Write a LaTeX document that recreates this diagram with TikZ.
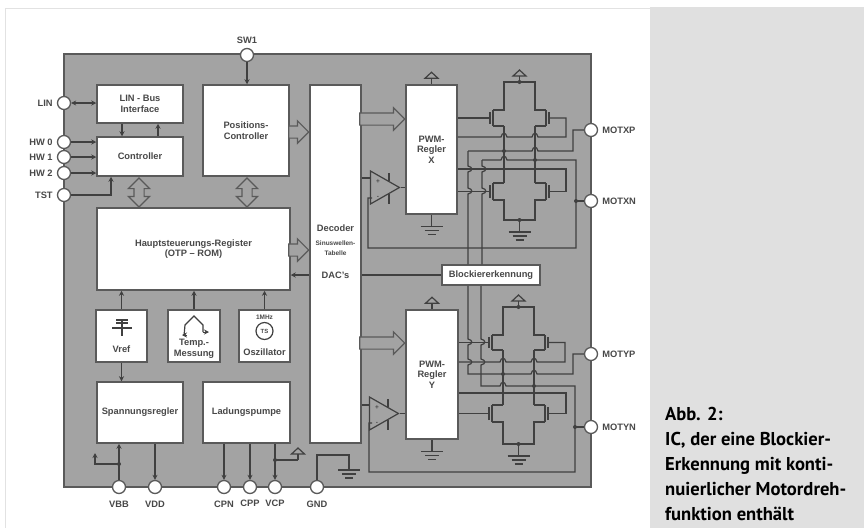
\documentclass[tikz,border=0pt]{standalone}
\usepackage{xcolor}
\usepackage{fontspec}
\setmainfont{Liberation Sans}
\newfontfamily\capfont{PT Sans}
\usetikzlibrary{positioning,arrows.meta,shapes.geometric,shapes.arrows,calc}
\definecolor{ChipGray}{HTML}{A3A3A3}
\definecolor{PanelGray}{HTML}{E0E0E0}
\definecolor{FrameGray}{HTML}{E2E2E2}
\definecolor{EdgeDark}{HTML}{5A5A5A}
\definecolor{WireDark}{HTML}{404040}
\definecolor{TextDark}{HTML}{484848}
\newcommand{\hoph}[2]{-- (#1-3,#2) .. controls (#1-2,#2-5) and (#1+2,#2-5) .. (#1+3,#2)}
\newcommand{\hopv}[2]{-- (#1,#2-3) .. controls (#1+5,#2-2) and (#1+5,#2+2) .. (#1,#2+3)}
\tikzset{
  wire/.style={WireDark,line width=1.2pt},
  ar/.style={-{Stealth[length=5pt,width=5pt]},WireDark,line width=1.2pt},
  arb/.style={{Stealth[length=5pt,width=5pt]}-{Stealth[length=5pt,width=5pt]},WireDark,line width=1.2pt},
  wdot/.style={fill=WireDark},
  chan/.style={WireDark,line width=2.4pt},
  blockbox/.style={draw=EdgeDark,fill=white,line width=1.5pt,inner sep=0pt,align=center,text=TextDark},
  pinnode/.style={circle,draw=EdgeDark,fill=white,line width=1.3pt,minimum size=13pt,inner sep=0pt},
  pinlabel/.style={inner sep=0pt,text=TextDark},
  tinylabel/.style={inner sep=0pt,text=TextDark,font=\fontsize{6.5}{9.5}\selectfont\bfseries},
  hollowr/.style={single arrow,draw=EdgeDark,fill=ChipGray,line width=1.2pt,inner xsep=0pt,inner ysep=5.5pt,minimum width=21pt,
    single arrow head extend=5pt,single arrow head indent=0pt,anchor=tip},
  hollowv/.style={double arrow,shape border rotate=90,draw=EdgeDark,fill=ChipGray,line width=1.2pt,inner sep=4.5pt,
    minimum width=20pt,minimum height=29pt,double arrow head extend=5.5pt},
  amp/.style={isosceles triangle,isosceles triangle stretches,draw=WireDark,line width=1.2pt,inner sep=0pt,
    minimum width=33pt,minimum height=29pt,anchor=apex},
  pics/vddsym/.style={code={
    \draw[wire] (0,0) -- (0,-6);
    \draw[wire] (-6.5,-6) -- (0,-12) -- (6.5,-6) -- cycle;}},
  pics/gndsym/.style={code={
    \draw[wire] (0,0) -- (0,12);
    \draw[wire] (-11,12) -- (11,12);
    \draw[wire] (-7,16) -- (7,16);
    \draw[wire] (-4,20) -- (4,20);}},
  pics/halfbridge/.style 2 args={code={
    \draw[wire] (-11,#1) -- (0,#1) -- (0,0) -- (31,0) -- (31,#1) -- (42,#1);
    \draw[wire] (-11,#2) -- (0,#2);
    \draw[wire] (31,#2) -- (42,#2);
    \draw[chan] (-11,#1) -- (-11,#2);
    \draw[chan] (42,#1) -- (42,#2);
    \draw[wire] (-14,#1+2) -- (-14,#2-2);
    \draw[wire] (45,#1+2) -- (45,#2-2);
    \fill[wdot] (15.5,0) circle (2);
    \coordinate (-gl) at (-14,{(#1+#2)/2});
    \coordinate (-gr) at (45,{(#1+#2)/2});
    \coordinate (-sl) at (0,#2);
    \coordinate (-sr) at (31,#2);}}
}
\begin{document}
\begin{tikzpicture}[x=1pt,y=-1pt,
    every node/.style={font=\fontsize{9.3}{10.5}\selectfont\bfseries}]
  \useasboundingbox (0,0) rectangle (864,528);
  % page
  \fill[white] (0,0) rectangle (864,528);
  \draw[FrameGray,line width=1pt] (5,528) -- (5,8) -- (650,8);
  \fill[PanelGray] (650,7) rectangle (864,528);
  \node[draw=EdgeDark,fill=ChipGray,line width=1.2pt,inner sep=0pt,minimum width=527pt,minimum height=433pt]
    (chip) at (327.5,270.5) {};

  % blocks
  \node[blockbox,minimum width=86pt,minimum height=38pt] (linbus) at (140,104) {LIN - Bus\\Interface};
  \node[blockbox,minimum width=86pt,minimum height=39pt] (ctrl) at (140,156.5) {Controller};
  \node[blockbox,minimum width=86pt,minimum height=91pt] (posc) at (246,130.5) {Positions-\\Controller};
  \node[blockbox,minimum width=193pt,minimum height=82pt] (haupt) at (193.5,249) {Hauptsteuerungs-Register\\(OTP -- ROM)};
  \node[blockbox,minimum width=51pt,minimum height=358pt] (dec) at (335.5,264) {};
  \node[blockbox,minimum width=51pt,minimum height=129pt] (pwmx) at (431.5,149.5) {PWM-\\Regler\\X};
  \node[blockbox,minimum width=52pt,minimum height=129pt] (pwmy) at (432,374.5) {PWM-\\Regler\\Y};
  \node[blockbox,minimum width=98pt,minimum height=20pt] (blk) at (491,275) {Blockiererkennung};
  \node[blockbox,minimum width=51pt,minimum height=52pt] (vref) at (121.5,336) {};
  \node[blockbox,minimum width=52pt,minimum height=52pt] (temp) at (194,336) {};
  \node[blockbox,minimum width=51pt,minimum height=52pt] (osc) at (264.5,336) {};
  \node[blockbox,minimum width=86pt,minimum height=61pt] (spann) at (140,412.5) {Spannungsregler};
  \node[blockbox,minimum width=87pt,minimum height=61pt] (ladung) at (246.5,412.5) {Ladungspumpe};

  % texts inside the blocks
  \node[pinlabel] (dectxt) at (335.5,228) {Decoder};
  \node[tinylabel,align=center] (sintxt) at (335.5,248) {Sinuswellen-\\Tabelle};
  \node[pinlabel] (dactxt) at (335.5,275) {DAC's};
  \node[pinlabel] (vreftxt) at (121.5,349) {Vref};
  \node[pinlabel,align=center] (temptxt) at (194,349) {Temp.-\\Messung};
  \node[tinylabel] (mhztxt) at (264.5,317) {1MHz};
  \node[pinlabel] (osctxt) at (264.5,352) {Oszillator};

  % pins
  \node[pinnode] (sw1) at (247,55) {};
  \node[pinnode] (lin) at (64,103) {};
  \node[pinnode] (hw0) at (64,142) {};
  \node[pinnode] (hw1) at (64,157) {};
  \node[pinnode] (hw2) at (64,173) {};
  \node[pinnode] (tst) at (64,195) {};
  \node[pinnode] (vbb) at (119,487) {};
  \node[pinnode] (vdd) at (155,487) {};
  \node[pinnode] (cpn) at (224,487) {};
  \node[pinnode] (cpp) at (250,487) {};
  \node[pinnode] (vcp) at (275,487) {};
  \node[pinnode] (gnd) at (317,487) {};
  \node[pinnode] (motxp) at (591,130) {};
  \node[pinnode] (motxn) at (591,201) {};
  \node[pinnode] (motyp) at (591,354) {};
  \node[pinnode] (motyn) at (591,427) {};
  \node[pinlabel,above=4pt of sw1] (sw1txt) {SW1};
  \node[pinlabel,left=4pt of lin] (lintxt) {LIN};
  \node[pinlabel,left=4pt of hw0] (hw0txt) {HW 0};
  \node[pinlabel,left=4pt of hw1] (hw1txt) {HW 1};
  \node[pinlabel,left=4pt of hw2] (hw2txt) {HW 2};
  \node[pinlabel,left=4pt of tst] (tsttxt) {TST};
  \node[pinlabel,below=7pt of vbb] (vbbtxt) {VBB};
  \node[pinlabel,below=7pt of vdd] (vddtxt) {VDD};
  \node[pinlabel,below=7pt of cpn] (cpntxt) {CPN};
  \node[pinlabel,below=6pt of cpp] (cpptxt) {CPP};
  \node[pinlabel,below=6pt of vcp] (vcptxt) {VCP};
  \node[pinlabel,below=7pt of gnd] (gndtxt) {GND};
  \node[pinlabel,right=4pt of motxp] (motxptxt) {MOTXP};
  \node[pinlabel,right=4pt of motxn] (motxntxt) {MOTXN};
  \node[pinlabel,right=4pt of motyp] (motyptxt) {MOTYP};
  \node[pinlabel,right=4pt of motyn] (motyntxt) {MOTYN};

  % hollow bus arrows
  \node[hollowr,minimum height=20pt] (busa) at (309.5,132) {};
  \node[hollowr,minimum height=20pt] (busb) at (309.5,250) {};
  \node[hollowr,minimum height=45pt] (busx) at (405.5,119) {};
  \node[hollowr,minimum height=45pt] (busy) at (405.5,343) {};
  \node[hollowv] (busc) at (139,192.5) {};
  \node[hollowv] (busd) at (247,192.5) {};

  % simple connectors
  \draw[ar] (sw1.south) -- (sw1.south |- posc.north);
  \draw[arb] (lin.east) -- (lin.east -| linbus.west);
  \draw[ar] ([xshift=-18pt]linbus.south) -- ([xshift=-18pt]ctrl.north);
  \draw[ar] ([xshift=18pt]ctrl.north) -- ([xshift=18pt]linbus.south);
  \draw[ar] (hw0.east) -- (hw0.east -| ctrl.west);
  \draw[ar] (hw1.east) -- (hw1.east -| ctrl.west);
  \draw[ar] (hw2.east) -- (hw2.east -| ctrl.west);
  \draw[ar] (tst.east) -| ([xshift=-29pt]ctrl.south);
  \draw[ar] (vref.north) -- (vref.north |- haupt.south);
  \draw[ar] (temp.north) -- (temp.north |- haupt.south);
  \draw[ar] (osc.north) -- (osc.north |- haupt.south);
  \draw[ar] (vref.south) -- (vref.south |- spann.north);
  \draw[ar] (vbb.north) -- (vbb.north |- spann.south);
  \draw[ar] (vdd.north |- spann.south) -- (vdd.north);
  \draw[ar] (cpn.north |- ladung.south) -- (cpn.north);
  \draw[ar] (cpp.north |- ladung.south) -- (cpp.north);
  \draw[ar] (vcp.north |- ladung.south) -- (vcp.north);
  \draw[wire] (blk.west) -- (dec.east |- blk.west);
  \draw[ar] (dec.west |- blk.west) -- (haupt.east |- blk.west);

  % small branches at the bottom
  \coordinate (vbbdot) at (119,464);
  \coordinate (vcpdot) at (275,460);
  \fill[wdot] (vbbdot) circle (2);
  \fill[wdot] (vcpdot) circle (2);
  \draw[ar] (vbbdot) -- (95,464) -- (95,453);
  \draw[wire] (vcpdot) -- (298,460);
  \pic at (298,460) {vddsym};
  \draw[wire] (gnd.north) -- (317,455) -- (349,455) -- (349,458);
  \pic at (349,458) {gndsym};

  % supplies of the PWM blocks
  \pic at (pwmx.north) {vddsym};
  \pic at (pwmx.south) {gndsym};
  \pic at (pwmy.north) {vddsym};
  \pic at (pwmy.south) {gndsym};

  % output stage X
  \pic (bxt) at (504,82) {halfbridge={28}{44}};
  \pic[yscale=-1] (bxb) at (504,220) {halfbridge={20}{37}};
  \pic at (519.5,82) {vddsym};
  \pic at (519.5,220) {gndsym};
  \draw[wire] (bxt-sl) -- (bxb-sl);
  \draw[wire] (bxt-sr) -- (bxb-sr);
  \fill[wdot] (504,151) circle (2);
  \fill[wdot] (535,160) circle (2);
  \draw[wire] (pwmx.east |- bxt-gl) -- (bxt-gl);
  \draw[wire] (pwmx.east |- 0,137) \hoph{504}{137} \hoph{535}{137} -- (566,137) -- (566,0 |- bxt-gr) -- (bxt-gr);
  \draw[wire] (pwmx.east |- 0,169) -- (566,169) -- (566,0 |- bxb-gr) -- (bxb-gr);
  \draw[wire] (pwmx.east |- bxb-gl) -- (bxb-gl);
  \draw[wire] (468,151) \hopv{468}{169} \hopv{468}{191} -- (468,0 |- blk.north);
  \draw[wire] (468,151) \hoph{535}{151} -- (573,151) -- (573,0 |- motxp.west) -- (motxp.west);
  \draw[wire] (482,160) \hopv{482}{169} \hopv{482}{191} -- (482,0 |- blk.north);
  \draw[wire] (482,160) \hoph{504}{160} -- (576,160) -- (576,248) -- (368,248) -- (368,198) -- (372,198);
  \fill[wdot] (576,0 |- motxn.west) circle (2);
  \draw[wire] (576,0 |- motxn.west) -- (motxn.west);
  \node[amp] (ampx) at (401,187.5) {};
  \node[tinylabel] (ampxp) at (378,182) {+};
  \node[tinylabel] (ampxm) at (378,197) {-};
  \draw[wire] (389,173) -- (389,181);
  \draw[wire] (389,194) -- (389,204);
  \draw[wire] (dec.east |- 0,178) -- (ampx.lower side |- 0,178);
  \draw[wire] (ampx.apex) -- (pwmx.west |- ampx.apex);

  % output stage Y
  \pic (byt) at (503,307) {halfbridge={28}{43}};
  \pic[yscale=-1] (byb) at (503,444) {halfbridge={22}{39}};
  \pic at (518.5,307) {vddsym};
  \pic at (518.5,444) {gndsym};
  \draw[wire] (byt-sl) -- (byb-sl);
  \draw[wire] (byt-sr) -- (byb-sr);
  \fill[wdot] (503,374) circle (2);
  \fill[wdot] (534,386) circle (2);
  \draw[wire] (pwmy.east |- byt-gl) -- (byt-gl);
  \draw[wire] (pwmy.east |- 0,362) \hoph{503}{362} \hoph{534}{362} -- (565,362) -- (565,0 |- byt-gr) -- (byt-gr);
  \draw[wire] (pwmy.east |- 0,393) -- (566,393) -- (566,0 |- byb-gr) -- (byb-gr);
  \draw[wire] (pwmy.east |- byb-gl) -- (byb-gl);
  \draw[wire] (468,0 |- blk.south) \hopv{468}{342} \hopv{468}{362} -- (468,374) \hoph{534}{374} -- (573,374) -- (573,0 |- motyp.west) -- (motyp.west);
  \draw[wire] (481,0 |- blk.south) \hopv{481}{342} \hopv{481}{362} -- (481,386) \hoph{503}{386} -- (575,386) -- (575,472) -- (369,472) -- (369,423) -- (372,423);
  \fill[wdot] (575,0 |- motyn.west) circle (2);
  \draw[wire] (575,0 |- motyn.west) -- (motyn.west);
  \node[amp] (ampy) at (400,413.5) {};
  \node[tinylabel] (ampyp) at (377,408) {+};
  \node[tinylabel] (ampym) at (377,423) {-};
  \draw[wire] (388,399) -- (388,407);
  \draw[wire] (388,420) -- (388,430);
  \draw[wire] (dec.east |- 0,405) -- (ampy.lower side |- 0,405);
  \draw[wire] (ampy.apex) -- (pwmy.west |- ampy.apex);

  % symbols in the small blocks
  \draw[wire] (112,328) -- (132,328);
  \draw[wire] (116,320) -- (128,320);
  \draw[wire] (116,323) -- (128,323);
  \draw[chan] (122,320) -- (122,336);
  \draw[wire] (184,336) -- (185,325) -- (194,316) -- (203,325) -- (203,332);
  \draw[ar,line width=.8pt] (203,332) -- (209,332);
  \draw[ar,line width=.8pt] (187,335) -- (182,335);
  \node[circle,draw=WireDark,line width=1.2pt,minimum size=17pt,inner sep=0pt,font=\fontsize{6}{7}\selectfont\bfseries,text=TextDark]
    (clk) at (264.5,331) {TS};

  % caption
  \node[anchor=north west,align=left,inner sep=0pt,text=black,
    font=\capfont\bfseries\fontsize{18.6}{25}\selectfont] (cap) at (665,407)
    {Abb. 2:\\IC, der eine Blockier-\\Erkennung mit konti-\\nuierlicher Motordreh-\\funktion enthält};
\end{tikzpicture}
\end{document}
